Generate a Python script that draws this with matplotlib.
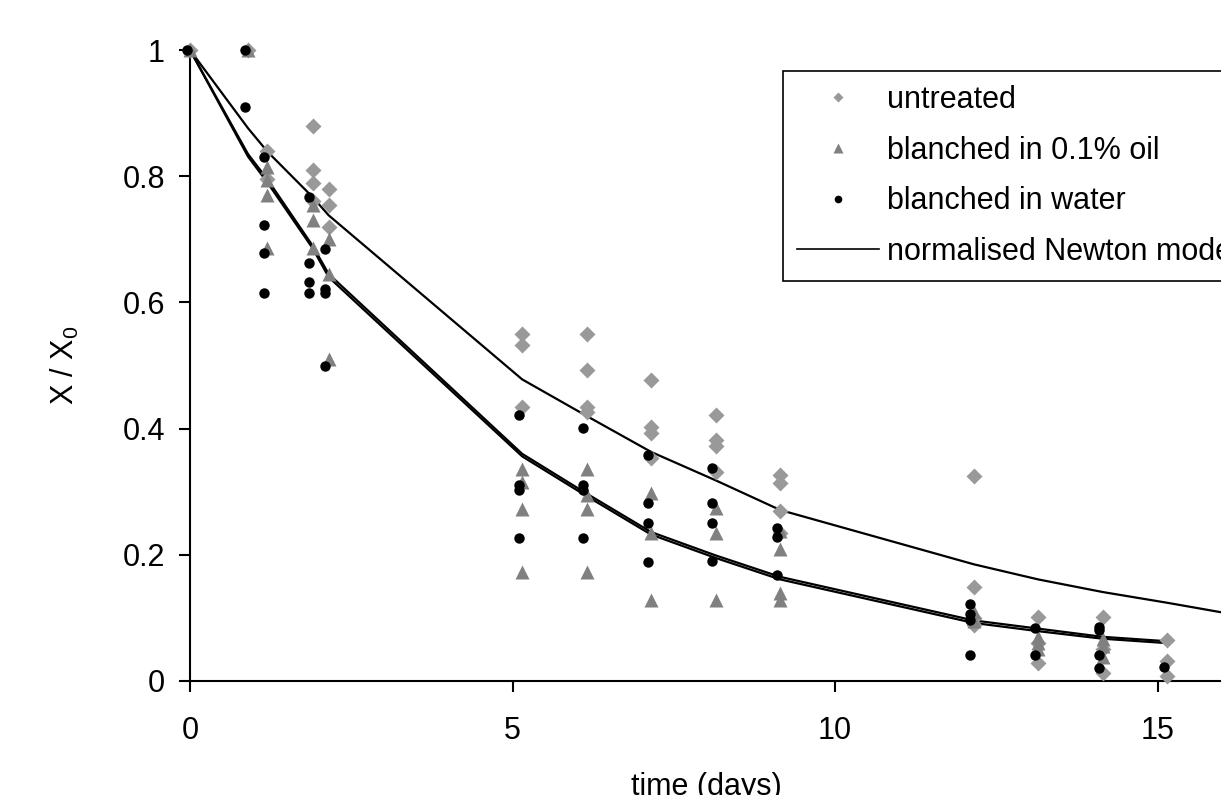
import matplotlib
matplotlib.use("Agg")
import matplotlib.pyplot as plt

plt.rcParams['font.family'] = ['Liberation Sans', 'DejaVu Sans']

# sampling days
days = [0, 0.9, 1.2, 1.9, 2.15, 5.15, 6.15, 7.15, 8.15, 9.15, 12.15, 13.15, 14.15, 15.15]

# replicate measurements of X / X0 per day
untreated = [
    [1.0], [1.0], [0.84, 0.795], [0.88, 0.81, 0.79, 0.76], [0.78, 0.755, 0.72],
    [0.55, 0.532, 0.434], [0.55, 0.493, 0.434, 0.427], [0.477, 0.403, 0.393, 0.353],
    [0.421, 0.382, 0.372, 0.332], [0.326, 0.313, 0.27, 0.235],
    [0.325, 0.149, 0.10, 0.089], [0.102, 0.06, 0.028], [0.102, 0.05, 0.012],
    [0.065, 0.031, 0.008],
]
oil = [
    [1.0], [1.0], [0.815, 0.794, 0.77, 0.686], [0.754, 0.73, 0.686], [0.70, 0.645, 0.51],
    [0.336, 0.316, 0.272, 0.172], [0.336, 0.295, 0.272, 0.172], [0.298, 0.234, 0.128],
    [0.274, 0.234, 0.128], [0.237, 0.209, 0.139, 0.128],
    [0.11, 0.095], [0.07, 0.06, 0.05], [0.066, 0.055, 0.038], [],
]
water = [
    [1.0], [1.0, 0.91], [0.831, 0.723, 0.678, 0.615], [0.767, 0.662, 0.633, 0.615],
    [0.685, 0.622, 0.615, 0.50], [0.421, 0.311, 0.303, 0.227], [0.401, 0.311, 0.303, 0.227],
    [0.358, 0.282, 0.25, 0.189], [0.337, 0.282, 0.25, 0.19], [0.242, 0.229, 0.168],
    [0.122, 0.106, 0.097, 0.041], [0.084, 0.041], [0.086, 0.081, 0.041, 0.021], [0.022],
]

# normalised Newton model curves
model_days = days + [16.15]
model_untreated = [1.0, 0.876, 0.839, 0.767, 0.738, 0.478, 0.42, 0.363, 0.318, 0.271,
                   0.185, 0.161, 0.141, 0.124, 0.106]
model_oil = [1.0, 0.835, 0.795, 0.69, 0.645, 0.36, 0.297, 0.236, 0.199, 0.165,
             0.096, 0.083, 0.07, 0.063]
model_water = [1.0, 0.831, 0.79, 0.686, 0.64, 0.356, 0.293, 0.232, 0.195, 0.161,
               0.092, 0.079, 0.067, 0.06]


def flatten(groups, shift=0.0):
    xs, ys = [], []
    for d, vals in zip(days, groups):
        for v in vals:
            xs.append(d + shift)
            ys.append(v)
    return xs, ys


fig = plt.figure(figsize=(12.21, 7.95), dpi=100)
ax = fig.add_axes([190 / 1221, 1 - 681 / 795, 1032 / 1221, 631 / 795])

# model lines
ax.plot(model_days, model_untreated, color='black', lw=1.6, zorder=2)
ax.plot(days, model_oil, color='black', lw=1.6, zorder=2)
ax.plot(days, model_water, color='black', lw=1.6, zorder=2)

# measurements
x, y = flatten(untreated)
ax.plot(x, y, 'D', color='#999999', ms=8.5, mec='none', clip_on=False, zorder=3)
x, y = flatten(oil)
ax.plot(x, y, '^', color='#808080', ms=10, mec='none', clip_on=False, zorder=3)
x, y = flatten(water, -0.05)
ax.plot(x, y, 'o', color='black', ms=7.5, mec='none', clip_on=False, zorder=4)

ax.set_xlim(0, 16)
ax.set_ylim(0, 1)
ax.set_xticks([0, 5, 10, 15])
ax.set_yticks([0, 0.2, 0.4, 0.6, 0.8, 1.0])
ax.set_yticklabels(['0', '0.2', '0.4', '0.6', '0.8', '1'])
ax.tick_params(direction='out', length=8, width=1.5, labelsize=22, pad=10)
ax.tick_params(axis='x', pad=17)
for s in ['top', 'right']:
    ax.spines[s].set_visible(False)
for s in ['left', 'bottom']:
    ax.spines[s].set_linewidth(1.5)

ax.set_xlabel('time (days)', fontsize=22, labelpad=19)
ax.set_ylabel('X / X$_\\mathregular{0}$', fontsize=22, labelpad=30)

# legend proxies
h1, = ax.plot([], [], 'D', color='#999999', ms=5, mec='none')
h2, = ax.plot([], [], '^', color='#808080', ms=6.5, mec='none')
h3, = ax.plot([], [], 'o', color='black', ms=5.5, mec='none')
h4, = ax.plot([], [], color='black', lw=1.2)
leg = fig.legend([h1, h2, h3, h4],
                 ['untreated', 'blanched in 0.1% oil', 'blanched in water',
                  'normalised Newton model'],
                 loc='upper left', bbox_to_anchor=(783 / 1221, 1 - 71 / 795),
                 fontsize=22, frameon=True, fancybox=False, framealpha=1,
                 edgecolor='black', handlelength=2.7, handletextpad=0.26,
                 labelspacing=0.68, borderpad=0.45, borderaxespad=0)
leg.get_frame().set_linewidth(1.2)

fig.savefig('out.png', dpi=100)
